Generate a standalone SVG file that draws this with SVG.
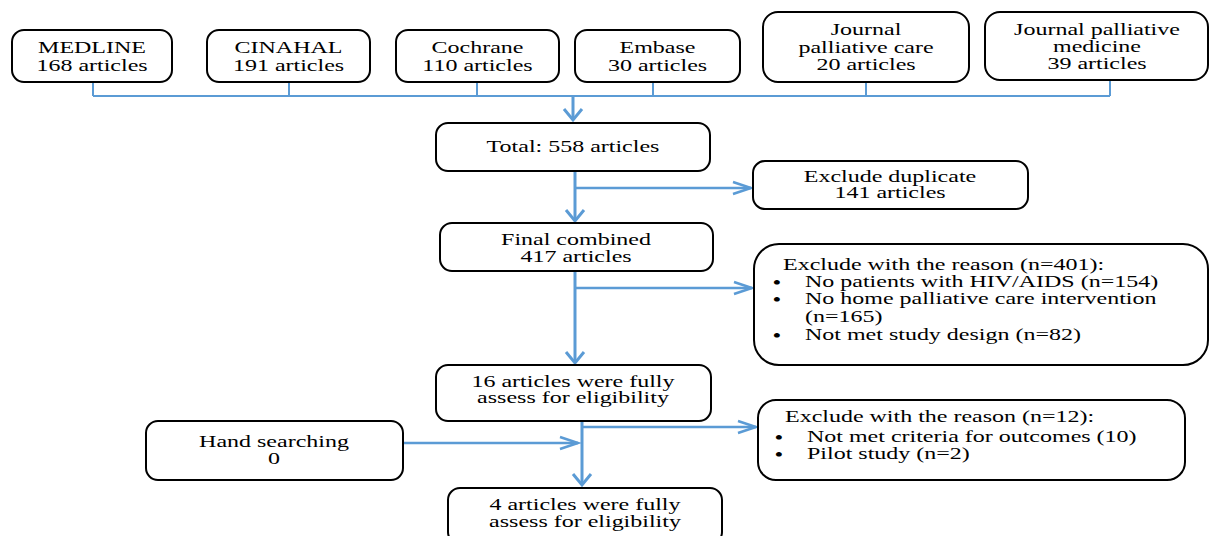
<svg xmlns="http://www.w3.org/2000/svg" width="1210" height="536" viewBox="0 0 1210 536">
<defs>
<style>
.box{fill:#fff;stroke:#000;stroke-width:2}
.t{font-family:"Liberation Serif","Times New Roman",serif;font-size:16px;fill:#000}
.b{font-family:"Liberation Serif","Times New Roman",serif;font-size:17px;font-weight:bold;fill:#000}
.c{text-anchor:middle}
.bus{fill:none;stroke:#5B9BD5;stroke-width:2}
.ln{fill:none;stroke:#5B9BD5;stroke-width:3}
.lr{fill:none;stroke:#5B9BD5;stroke-width:2.5}
</style>
<marker id="ad" markerUnits="userSpaceOnUse" viewBox="-14 -12 16 24" refX="0" refY="0" markerWidth="16" markerHeight="24" orient="auto" overflow="visible">
<path d="M-11,-9 L0,0 L-11,9" fill="none" stroke="#5B9BD5" stroke-width="3"/>
</marker>
<marker id="ar" markerUnits="userSpaceOnUse" viewBox="-20 -8 22 16" refX="0" refY="0" markerWidth="22" markerHeight="16" orient="auto" overflow="visible">
<path d="M-18,-6 L0,0 L-18,6" fill="none" stroke="#5B9BD5" stroke-width="2.5"/>
</marker>
</defs>
<rect width="1210" height="536" fill="#fff"/>

<g id="connectors">
<path class="bus" d="M93,82 V96 M289,82 V96 M477,82 V96 M653,82 V96 M866,82 V96 M1110,80 V96 M93,96 H1110"/>
<path class="ln" d="M573,96 V120" marker-end="url(#ad)"/>
<path class="ln" d="M575,171 V221" marker-end="url(#ad)"/>
<path class="lr" d="M575,188 H751" marker-end="url(#ar)"/>
<path class="ln" d="M575,271 V363" marker-end="url(#ad)"/>
<path class="lr" d="M575,288 H752" marker-end="url(#ar)"/>
<path class="ln" d="M582,421 V485" marker-end="url(#ad)"/>
<path class="lr" d="M582,427 H756" marker-end="url(#ar)"/>
<path class="lr" d="M403,443 H578" marker-end="url(#ar)"/>
</g>

<g id="medline">
<rect class="box" x="12" y="30" width="160" height="52" rx="12"/>
<text class="t c" transform="translate(92,53) scale(1.5,1)">MEDLINE</text>
<text class="t c" transform="translate(92,71) scale(1.5,1)">168 articles</text>
</g>
<g id="cinahal">
<rect class="box" x="207" y="30" width="163" height="52" rx="12"/>
<text class="t c" transform="translate(288.5,53) scale(1.5,1)">CINAHAL</text>
<text class="t c" transform="translate(288.5,71) scale(1.5,1)">191 articles</text>
</g>
<g id="cochrane">
<rect class="box" x="396" y="30" width="163" height="52" rx="12"/>
<text class="t c" transform="translate(477.5,53) scale(1.5,1)">Cochrane</text>
<text class="t c" transform="translate(477.5,71) scale(1.5,1)">110 articles</text>
</g>
<g id="embase">
<rect class="box" x="575" y="30" width="165" height="52" rx="12"/>
<text class="t c" transform="translate(657.5,53) scale(1.5,1)">Embase</text>
<text class="t c" transform="translate(657.5,71) scale(1.5,1)">30 articles</text>
</g>
<g id="jpc">
<rect class="box" x="763" y="12" width="206" height="70" rx="15"/>
<text class="t c" transform="translate(866,35) scale(1.5,1)">Journal</text>
<text class="t c" transform="translate(866,53) scale(1.5,1)">palliative care</text>
<text class="t c" transform="translate(866,70) scale(1.5,1)">20 articles</text>
</g>
<g id="jpm">
<rect class="box" x="985" y="12" width="223" height="68" rx="15"/>
<text class="t c" transform="translate(1097,35) scale(1.5,1)">Journal palliative</text>
<text class="t c" transform="translate(1097,52) scale(1.5,1)">medicine</text>
<text class="t c" transform="translate(1097,69) scale(1.5,1)">39 articles</text>
</g>
<g id="total">
<rect class="box" x="436" y="123" width="274" height="48" rx="12"/>
<text class="t c" transform="translate(573,152) scale(1.5,1)">Total: 558 articles</text>
</g>
<g id="dup">
<rect class="box" x="753" y="161" width="275" height="48" rx="12"/>
<text class="t c" transform="translate(890,182) scale(1.5,1)">Exclude duplicate</text>
<text class="t c" transform="translate(890,198) scale(1.5,1)">141 articles</text>
</g>
<g id="final">
<rect class="box" x="440" y="223" width="273" height="48" rx="12"/>
<text class="t c" transform="translate(576,245) scale(1.5,1)">Final combined</text>
<text class="t c" transform="translate(576,262) scale(1.5,1)">417 articles</text>
</g>
<g id="excl401">
<rect class="box" x="754" y="244" width="454" height="121" rx="25"/>
<text class="t" transform="translate(783,270) scale(1.5,1)">Exclude with the reason (n=401):</text>
<text class="b" transform="translate(773,288) scale(1.3,1)">•</text>
<text class="t" transform="translate(805,287) scale(1.5,1)">No patients with HIV/AIDS (n=154)</text>
<text class="b" transform="translate(773,305) scale(1.3,1)">•</text>
<text class="t" transform="translate(805,304) scale(1.5,1)">No home palliative care intervention</text>
<text class="t" transform="translate(805,322) scale(1.5,1)">(n=165)</text>
<text class="b" transform="translate(773,341) scale(1.3,1)">•</text>
<text class="t" transform="translate(805,340) scale(1.5,1)">Not met study design (n=82)</text>
</g>
<g id="full16">
<rect class="box" x="436" y="365" width="275" height="56" rx="12"/>
<text class="t c" transform="translate(573,387) scale(1.5,1)">16 articles were fully</text>
<text class="t c" transform="translate(573,403) scale(1.5,1)">assess for eligibility</text>
</g>
<g id="hand">
<rect class="box" x="146" y="421" width="257" height="59" rx="12"/>
<text class="t c" transform="translate(274,447) scale(1.5,1)">Hand searching</text>
<text class="t c" transform="translate(274,464) scale(1.5,1)">0</text>
</g>
<g id="excl12">
<rect class="box" x="758" y="400" width="427" height="80" rx="18"/>
<text class="t" transform="translate(785,422) scale(1.5,1)">Exclude with the reason (n=12):</text>
<text class="b" transform="translate(775,443) scale(1.3,1)">•</text>
<text class="t" transform="translate(807,442) scale(1.5,1)">Not met criteria for outcomes (10)</text>
<text class="b" transform="translate(775,460) scale(1.3,1)">•</text>
<text class="t" transform="translate(807,459) scale(1.5,1)">Pilot study (n=2)</text>
</g>
<g id="full4">
<rect class="box" x="448" y="488" width="274" height="56" rx="12"/>
<text class="t c" transform="translate(585,510) scale(1.5,1)">4 articles were fully</text>
<text class="t c" transform="translate(585,527) scale(1.5,1)">assess for eligibility</text>
</g>
</svg>
